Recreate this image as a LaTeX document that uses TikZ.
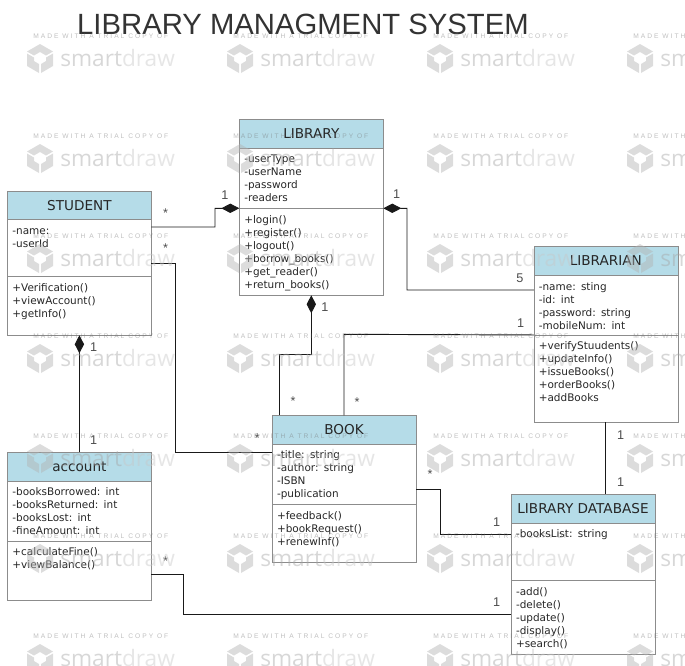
\documentclass[tikz,border=0pt]{standalone}
\usepackage{fontspec}
\setmainfont{DejaVu Sans}
\newfontfamily\titlefont{Liberation Sans}
\newfontfamily\markfont[LetterSpace=30]{Liberation Sans}
\newfontfamily\logofont{Open Sans}
\usetikzlibrary{arrows.meta,positioning}

\tikzset{
    classhead/.style = {draw=black!45, fill=headblue, text=black!85, outer sep=0pt,
        minimum width=108pt, minimum height=21.4pt, inner sep=0pt, font=\fontsize{10.2}{11}\selectfont},
    compart/.style = {draw=black!45, fill=white, outer sep=0pt, inner xsep=3.75pt, inner ysep=0pt,
        text width=100.5pt, align=left, text height=11.2pt, text depth={#1*0.75pt-11.2pt},
        text=black!85, font=\fontsize{7.85}{9.75}\selectfont},
    assoc/.style = {draw=black!90, line width=0.7pt},
    whole/.style = {-{Diamond[length=13.5pt,width=7pt]}},
    mult/.style = {text=black!70, inner sep=0pt, font=\titlefont\fontsize{9.5}{10}\selectfont},
}
\definecolor{headblue}{HTML}{B5DCE8}

\begin{document}
\begin{tikzpicture}[x=0.75pt, y=-0.75pt]
    \useasboundingbox (0,0) rectangle (685,665);

    \node[inner sep=0pt, text=black!80, font=\titlefont\fontsize{21.95}{24}\selectfont] (title) at (303,24) {LIBRARY MANAGMENT SYSTEM};

    % classes
    \node[classhead] (library) at (311.3,133.5) {LIBRARY};
    \node[compart=60.5, below=0pt of library] (libraryattr) {-userType\\-userName\\-password\\-readers};
    \node[compart=87, below=0pt of libraryattr] (libraryops) {+login()\\+register()\\+logout()\\+borrow\_books()\\+get\_reader()\\+return\_books()};

    \node[classhead] (student) at (79.4,205.2) {STUDENT};
    \node[compart=57.2, below=0pt of student] (studentattr) {-name:\\-userId};
    \node[compart=58.6, below=0pt of studentattr] (studentops) {+Verification()\\+viewAccount()\\+getInfo()};

    \node[classhead] (librarian) at (605.8,261) {LIBRARIAN};
    \node[compart=59.7, below=0pt of librarian] (librarianattr) {-name: sting\\-id: int\\-password: string\\-mobileNum: int};
    \node[compart=87.3, below=0pt of librarianattr] (librarianops) {+verifyStuudents()\\+updateInfo()\\+issueBooks()\\+orderBooks()\\+addBooks};

    \node[classhead] (book) at (344,429.6) {BOOK};
    \node[compart=60.3, below=0pt of book] (bookattr) {-title: string\\-author: string\\-ISBN\\-publication};
    \node[compart=58.4, below=0pt of bookattr] (bookops) {+feedback()\\+bookRequest()\\+renewInf()};

    \node[classhead] (account) at (79.4,466.6) {account};
    \node[compart=60, below=0pt of account] (accountattr) {-booksBorrowed: int\\-booksReturned: int\\-booksLost: int\\-fineAmount: int};
    \node[compart=59, below=0pt of accountattr] (accountops) {+calculateFine()\\+viewBalance()};

    \node[classhead] (database) at (583,508.6) {LIBRARY DATABASE};
    \node[compart=57.3, below=0pt of database] (databaseattr) {-booksList: string};
    \node[compart=73.7, below=0pt of databaseattr] (databaseops) {-add()\\-delete()\\-update()\\-display()\\+search()};

    % connectors
    \draw[assoc,whole] (studentattr.east |- 0,227) -- (215,227) -- (215,208.3) -- (libraryattr.south west);
    \draw[assoc,whole] (librarianattr.west |- 0,290) -- (407,290) -- (407,208.3) -- (libraryattr.south east);
    \draw[assoc,whole] (book.north -| 279,0) -- (279,354) -- (311.3,354) -- (libraryops.south);
    \draw[assoc] (book.north -| 344,0) -- (344,334.3) -- (librarianops.north west);
    \draw[assoc] (studentattr.east |- 0,263.3) -- (175.3,263.3) -- (175.3,452.3) -- (bookattr.west |- 0,452.3);
    \draw[assoc,whole] (account.north) -- (studentops.south);
    \draw[assoc] (bookattr.east |- 0,489) -- (440,489) -- (440,534.3) -- (databaseattr.west |- 0,534.3);
    \draw[assoc] (accountops.east |- 0,574.3) -- (183,574.3) -- (183,614) -- (databaseops.west |- 0,614);
    \draw[assoc] (librarianops.south) -- (database.north -| librarianops.south);

    % multiplicities
    \node[mult] (m1) at (225,195) {1};
    \node[mult] (m2) at (165.5,213) {*};
    \node[mult] (m3) at (165.5,248.5) {*};
    \node[mult] (m4) at (396.7,194) {1};
    \node[mult] (m5) at (520,278) {5};
    \node[mult] (m6) at (520.7,322.7) {1};
    \node[mult] (m7) at (325,307) {1};
    \node[mult] (m8) at (93.7,346.7) {1};
    \node[mult] (m9) at (93.7,440) {1};
    \node[mult] (m10) at (257.3,438.5) {*};
    \node[mult] (m11) at (293,401) {*};
    \node[mult] (m12) at (357,402) {*};
    \node[mult] (m13) at (430,474.5) {*};
    \node[mult] (m14) at (496.7,522.3) {1};
    \node[mult] (m15) at (496.7,601.7) {1};
    \node[mult] (m16) at (620.7,435) {1};
    \node[mult] (m17) at (620.7,481.7) {1};
    \node[mult] (m18) at (165.5,561) {*};

    % trial watermark on top of everything
    \begin{scope}
    \clip (0,0) rectangle (685,665);
    \foreach \wx in {0,200,400,600} {
        \foreach \wy in {0,100,200,300,400,500,600} {
            \begin{scope}[shift={(\wx,\wy)}, opacity=0.45]
                \fill[black!30] (40,44) -- (53,51.5) -- (46,55.5) -- (40,52) -- (34,55.5) -- (27,51.5) -- cycle;
                \fill[black!30] (27,53.5) -- (34,57.5) -- (34,61) -- (39,64) -- (39,73) -- (27,66) -- cycle;
                \fill[black!30] (53,53.5) -- (46,57.5) -- (46,61) -- (41,64) -- (41,73) -- (53,66) -- cycle;
                \node[anchor=west, inner sep=0pt, text=black!55, font=\markfont\fontsize{5}{5}\selectfont] (mk\wx-\wy) at (33,36) {MADE WITH A TRIAL COPY OF};
                \node[anchor=west, inner sep=0pt, text=black!35, font=\logofont\fontsize{17}{20}\selectfont] (lg\wx-\wy) at (60,58) {smart\textcolor{black!22}{draw}};
            \end{scope}
        }
    }
    \end{scope}
\end{tikzpicture}
\end{document}
